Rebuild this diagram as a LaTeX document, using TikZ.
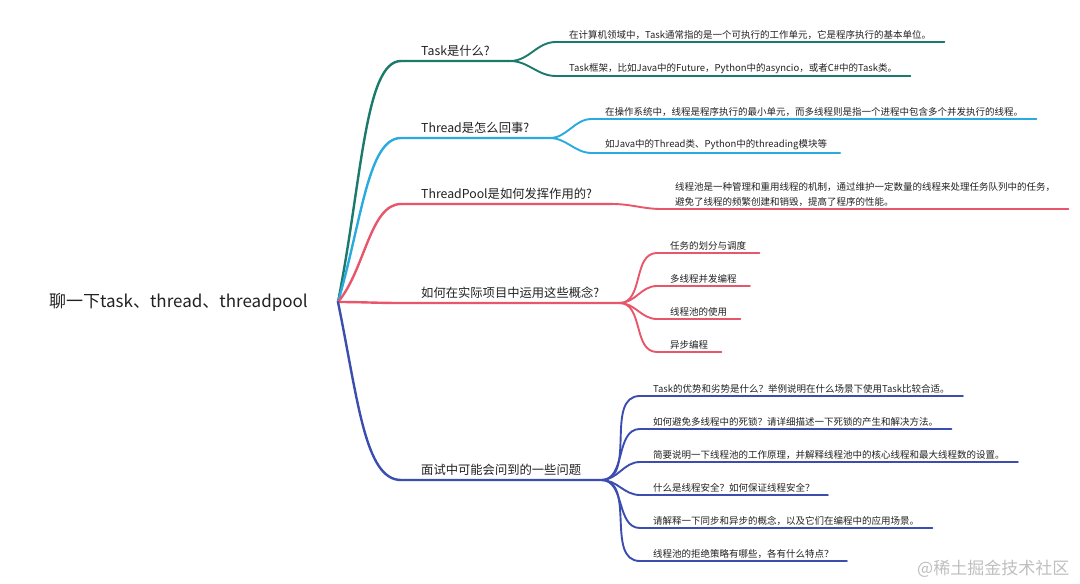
\documentclass[tikz,border=0pt]{standalone}
\usepackage{fontspec}
\setmainfont{Noto Sans CJK SC}
\usepackage{xcolor}
\usetikzlibrary{
    arrows.meta,
    positioning
}

\definecolor{tealbr}{HTML}{1B7A6C}
\definecolor{cyanbr}{HTML}{2AABDF}
\definecolor{redbr}{HTML}{E8566B}
\definecolor{bluebr}{HTML}{3B4DAE}
\definecolor{textgray}{HTML}{222222}

\begin{document}
\begin{tikzpicture}[
    x=1pt, y=-1pt,
    rootnode/.style={
        font=\fontsize{17}{20}\selectfont,
        text=textgray,
        inner sep=0pt,
        anchor=east
    },
    topic/.style={
        font=\fontsize{12.3}{15}\selectfont,
        text=textgray,
        anchor=south west,
        inner xsep=20pt,
        inner ysep=4pt
    },
    leaf/.style={
        font=\fontsize{9.5}{15}\selectfont,
        text=textgray,
        anchor=south west,
        align=left,
        inner xsep=13pt,
        inner ysep=2.5pt
    },
    branch/.style={
        line width=2.4pt,
        line cap=round
    },
    twig/.style={
        line width=1.9pt,
        line cap=round
    },
    stamp/.style={
        font=\fontsize{17}{20}\selectfont,
        text=black!25,
        anchor=west,
        inner sep=0pt
    }
]

\useasboundingbox (0,0) rectangle (1080,584);
\fill[white] (0,0) rectangle (1080,584);

% =========================================================
% Root
% =========================================================
\coordinate (hub) at (338,302);

\node[rootnode] (root) at (308,302)
{聊一下task、thread、threadpool};

% =========================================================
% First level topics
% =========================================================
\node[topic] (task) at (401,61) {Task是什么?};
\node[topic] (thread) at (401,138) {Thread是怎么回事?};
\node[topic] (pool) at (401,204) {ThreadPool是如何发挥作用的?};
\node[topic] (apply) at (401,303) {如何在实际项目中运用这些概念?};
\node[topic] (interview) at (401,480) {面试中可能会问到的一些问题};

% =========================================================
% Second level leaves
% =========================================================
\node[leaf] (taskA) at (556,42)
{在计算机领域中，Task通常指的是一个可执行的工作单元，它是程序执行的基本单位。};
\node[leaf] (taskB) at (556,76)
{Task框架，比如Java中的Future，Python中的asyncio，或者C\#中的Task类。};

\node[leaf] (threadA) at (592,119)
{在操作系统中，线程是程序执行的最小单元，而多线程则是指一个进程中包含多个并发执行的线程。};
\node[leaf] (threadB) at (592,153)
{如Java中的Thread类、Python中的threading模块等};

\node[leaf] (poolA) at (662,209)
{线程池是一种管理和重用线程的机制，通过维护一定数量的线程来处理任务队列中的任务，\\避免了线程的频繁创建和销毁，提高了程序的性能。};

\node[leaf] (applyA) at (657,253) {任务的划分与调度};
\node[leaf] (applyB) at (657,286) {多线程并发编程};
\node[leaf] (applyC) at (657,319) {线程池的使用};
\node[leaf] (applyD) at (657,352) {异步编程};

\node[leaf] (askA) at (640,396)
{Task的优势和劣势是什么？举例说明在什么场景下使用Task比较合适。};
\node[leaf] (askB) at (640,429)
{如何避免多线程中的死锁？请详细描述一下死锁的产生和解决方法。};
\node[leaf] (askC) at (640,462)
{简要说明一下线程池的工作原理，并解释线程池中的核心线程和最大线程数的设置。};
\node[leaf] (askD) at (640,495)
{什么是线程安全？如何保证线程安全？};
\node[leaf] (askE) at (640,528)
{请解释一下同步和异步的概念，以及它们在编程中的应用场景。};
\node[leaf] (askF) at (640,561)
{线程池的拒绝策略有哪些，各有什么特点？};

\node[stamp] (credit) at (917,569) {@稀土掘金技术社区};

% =========================================================
% Root branches
% =========================================================
\draw[branch, tealbr] (hub) .. controls +(24,-122) and +(-36,0) .. (task.south west) -- (task.south east);
\draw[branch, cyanbr] (hub) .. controls +(24,-82) and +(-33,0) .. (thread.south west) -- (thread.south east);
\draw[branch, redbr] (hub) .. controls +(27,-32) and +(-31,0) .. (pool.south west) -- (pool.south east);
\draw[branch, redbr] (hub) to[out=0,in=180] (apply.south west) -- (apply.south east);
\draw[branch, bluebr] (hub) .. controls +(20,98) and +(-36,0) .. (interview.south west) -- (interview.south east);

% =========================================================
% Leaf branches
% =========================================================
\draw[twig, tealbr] (task.south east) to[out=0,in=180] (taskA.south west) -- (taskA.south east);
\draw[twig, tealbr] (task.south east) to[out=0,in=180] (taskB.south west) -- (taskB.south east);

\draw[twig, cyanbr] (thread.south east) to[out=0,in=180] (threadA.south west) -- (threadA.south east);
\draw[twig, cyanbr] (thread.south east) to[out=0,in=180] (threadB.south west) -- (threadB.south east);

\draw[twig, redbr] (pool.south east) to[out=0,in=180] (poolA.south west) -- (poolA.south east);

\draw[twig, redbr] (apply.south east) to[out=0,in=180] (applyA.south west) -- (applyA.south east);
\draw[twig, redbr] (apply.south east) to[out=0,in=180] (applyB.south west) -- (applyB.south east);
\draw[twig, redbr] (apply.south east) to[out=0,in=180] (applyC.south west) -- (applyC.south east);
\draw[twig, redbr] (apply.south east) to[out=0,in=180] (applyD.south west) -- (applyD.south east);

\draw[twig, bluebr] (interview.south east) to[out=0,in=180] (askA.south west) -- (askA.south east);
\draw[twig, bluebr] (interview.south east) to[out=0,in=180] (askB.south west) -- (askB.south east);
\draw[twig, bluebr] (interview.south east) to[out=0,in=180] (askC.south west) -- (askC.south east);
\draw[twig, bluebr] (interview.south east) to[out=0,in=180] (askD.south west) -- (askD.south east);
\draw[twig, bluebr] (interview.south east) to[out=0,in=180] (askE.south west) -- (askE.south east);
\draw[twig, bluebr] (interview.south east) to[out=0,in=180] (askF.south west) -- (askF.south east);

\end{tikzpicture}
\end{document}
